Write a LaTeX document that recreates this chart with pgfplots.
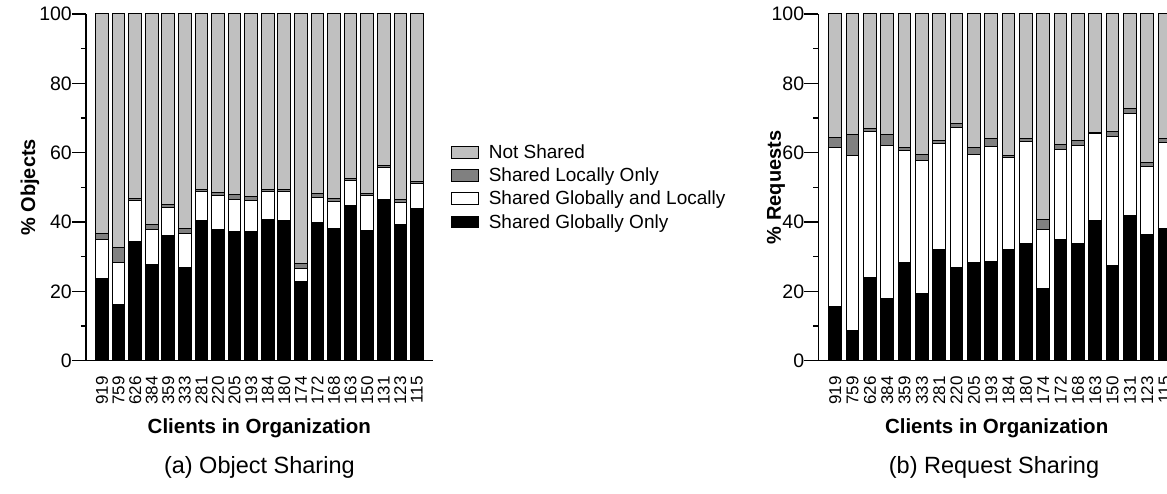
\documentclass[border=0pt]{standalone}
\usepackage{fontspec}
\setmainfont{Liberation Sans}
\usepackage{pgfplots}
\pgfplotsset{compat=1.18}
\usepackage{pgfplotstable}
\definecolor{lgray}{RGB}{192,192,192}
\definecolor{dgray}{RGB}{128,128,128}

% cumulative tops: ns = Not Shared (to 100), sl = top of Shared Locally Only,
% sgl = top of Shared Globally and Locally, sgo = Shared Globally Only
\pgfplotstableread{
x ns sl sgl sgo
0 100 36.8 35.1 23.75
1 100 32.6 28.3 16.1
2 100 46.8 46.1 34.4
3 100 39.3 37.9 27.8
4 100 45.0 44.3 36.25
5 100 38.1 36.8 27.0
6 100 49.3 48.7 40.5
7 100 48.5 47.6 37.8
8 100 47.9 46.4 37.3
9 100 47.5 46.3 37.3
10 100 49.3 48.9 40.7
11 100 49.3 48.8 40.3
12 100 27.9 26.7 22.9
13 100 48.1 47.2 39.8
14 100 46.7 45.9 38.1
15 100 52.6 52.1 44.9
16 100 48.3 47.7 37.5
17 100 56.3 55.6 46.4
18 100 46.4 45.7 39.3
19 100 51.8 51.1 44.0
}\objtab

\pgfplotstableread{
x ns sl sgl sgo
0 100 64.3 61.5 15.7
1 100 65.3 59.2 8.65
2 100 67.0 66.0 24.0
3 100 65.3 62.2 17.8
4 100 61.6 60.7 28.3
5 100 59.5 57.8 19.4
6 100 63.4 62.6 32.2
7 100 68.5 67.3 26.9
8 100 61.4 59.5 28.3
9 100 64.0 61.9 28.7
10 100 59.2 58.75 32.0
11 100 64.2 63.2 33.8
12 100 40.8 37.8 20.7
13 100 62.4 60.9 35.0
14 100 63.6 62.1 33.9
15 100 65.8 65.4 40.5
16 100 66.0 64.8 27.6
17 100 72.8 71.25 41.9
18 100 57.1 55.9 36.4
19 100 64.2 63.0 38.0
}\reqtab

\pgfplotsset{
  sharestyle/.style={
    scale only axis, height=346.7pt,
    ymin=0, ymax=100,
    ytick={0,20,...,100}, minor ytick={10,30,...,90},
    axis x line*=bottom, axis y line*=left,
    tick align=outside, major tick length=14pt, minor tick length=5pt,
    xtick={0,...,19},
    xticklabels={919,759,626,384,359,333,281,220,205,193,184,180,174,172,168,163,150,131,123,115},
    xtick style={draw=none},
    y tick style={line width=1.2pt, black},
    x tick label style={rotate=90, anchor=east, font=\fontsize{17}{17}\selectfont, inner sep=0pt, xshift=-1.5pt},
    y tick label style={font=\fontsize{19.5}{19.5}\selectfont, inner sep=0pt, xshift=0pt},
    /pgf/number format/assume math mode=true,
    axis line style={line width=1.3pt},
    clip=false,
    xlabel={Clients in Organization},
    xlabel style={font=\fontsize{20.5}{22}\selectfont\bfseries, at={(axis description cs:0.5,-0.196)}, anchor=center},
    ylabel style={font=\fontsize{20}{22}\selectfont\bfseries, anchor=center, rotate=0},
  },
  mybar/.style={ybar, bar width=12.7pt, draw=black, line width=1pt,
    legend image code/.code={\draw[##1, line width=0.9pt] (0pt,-5.85pt) rectangle (26.7pt,5.85pt);}},
}

\begin{document}
\begin{tikzpicture}
\path[use as bounding box] (0,0) rectangle (1167pt,493pt);
\clip (0,0) rectangle (1167pt,493pt);

\begin{axis}[sharestyle,
  at={(86pt,132.3pt)}, anchor=south west,
  width=346.7pt, xmin=-0.965, xmax=19.95,
  ylabel={\% Objects},
  ylabel style={at={(axis description cs:-0.1615,0.5)}},
  legend cell align=left,
  legend style={at={(1.0528,0.630)}, anchor=north west, draw=none, fill=none,
    font=\fontsize{19}{20}\selectfont, row sep=4pt, inner sep=0pt,
    /tikz/every odd column/.append style={column sep=8pt}},
]
\addplot[mybar, fill=lgray] table[x=x, y=ns] {\objtab};
\addlegendentry{Not Shared}
\addplot[mybar, fill=dgray] table[x=x, y=sl] {\objtab};
\addlegendentry{Shared Locally Only}
\addplot[mybar, fill=white] table[x=x, y=sgl] {\objtab};
\addlegendentry{Shared Globally and Locally}
\addplot[mybar, fill=black] table[x=x, y=sgo] {\objtab};
\addlegendentry{Shared Globally Only}
\node[font=\fontsize{23.5}{25}\selectfont] at (axis description cs:0.5,-0.309) {(a) Object Sharing};
\end{axis}

\begin{axis}[sharestyle,
  at={(818.3pt,132.3pt)}, anchor=south west,
  width=356.7pt, xmin=-0.98, xmax=19.6,
  ylabel={\% Requests},
  ylabel style={at={(axis description cs:-0.1186,0.5)}},
]
\addplot[mybar, fill=lgray] table[x=x, y=ns] {\reqtab};
\addplot[mybar, fill=dgray] table[x=x, y=sl] {\reqtab};
\addplot[mybar, fill=white] table[x=x, y=sgl] {\reqtab};
\addplot[mybar, fill=black] table[x=x, y=sgo] {\reqtab};
\node[font=\fontsize{23.5}{25}\selectfont] at (axis description cs:0.4926,-0.309) {(b) Request Sharing};
\end{axis}
\end{tikzpicture}
\end{document}
